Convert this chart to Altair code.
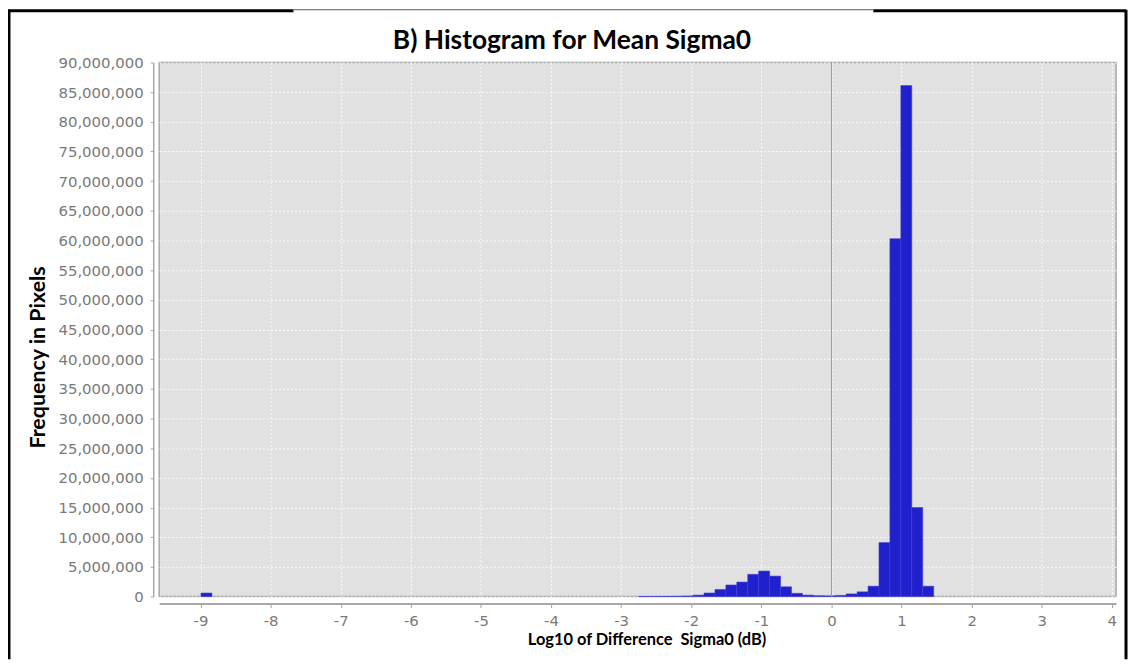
import altair as alt
import pandas as pd

# Histogram bins (left edges, bin width) and pixel counts
BIN_WIDTH = 0.156
bin_start = [-8.994, -2.754, -2.598, -2.442, -2.286, -2.13, -1.974, -1.818, -1.662,
             -1.506, -1.35, -1.194, -1.038, -0.882, -0.726, -0.57, -0.414, -0.258,
             -0.102, 0.054, 0.21, 0.366, 0.522, 0.678, 0.834, 0.99, 1.146, 1.302]
counts = [600000, 10000, 20000, 30000, 50000, 100000, 250000, 600000, 1200000,
          1950000, 2450000, 3750000, 4300000, 3450000, 1650000, 550000, 250000, 150000,
          120000, 200000, 450000, 800000, 1750000, 9100000, 60300000, 86100000,
          15000000, 1750000]

x_ticks = [-9, -8, -7, -6, -5, -4, -3, -2, -1, 0, 1, 2, 3, 4]
y_ticks = [0, 5000000, 10000000, 15000000, 20000000, 25000000, 30000000, 35000000,
           40000000, 45000000, 50000000, 55000000, 60000000, 65000000, 70000000,
           75000000, 80000000, 85000000, 90000000]

TITLE = "B) Histogram for Mean Sigma0"

df = pd.DataFrame({"start": bin_start, "count": counts})
df["end"] = df["start"] + BIN_WIDTH

W, H = 962, 537
LABEL_FONT = "DejaVu Sans"

xscale = alt.Scale(domain=[-9.59, 4.06], nice=False, zero=False)
yscale = alt.Scale(domain=[0, 90000000], nice=False)

bars = alt.Chart(df).mark_bar(color="#2020CC", stroke="#3C3CD8", strokeWidth=0.6).encode(
    x=alt.X("start:Q", scale=xscale,
            axis=alt.Axis(values=x_ticks, labelExpr="'' + datum.value",
                          title="Log10 of Difference\u00a0 Sigma0 (dB)",
                          offset=7, tickSize=4, labelPadding=6,
                          domainColor="#A8A8A8", domainWidth=2, tickColor="#A0A0A0",
                          labelColor="#7A7A7A", labelFont=LABEL_FONT, labelFontSize=15,
                          titleFont="Lato", titleFontSize=16.5, titleFontWeight="bold",
                          titleColor="#000000", titleX=490, titleY=41,
                          titleBaseline="alphabetic",
                          gridColor="#FFFFFF", gridDash=[2, 2], gridOpacity=0.9)),
    x2="end:Q",
    y=alt.Y("count:Q", scale=yscale,
            axis=alt.Axis(values=y_ticks, format=",d", title="Frequency in Pixels",
                          offset=6, tickSize=3, labelPadding=7,
                          domainColor="#A8A8A8", domainWidth=1.5, tickColor="#A0A0A0",
                          labelColor="#7A7A7A", labelFont=LABEL_FONT, labelFontSize=15,
                          titleFont="Lato", titleFontSize=21.5, titleFontWeight="bold",
                          titleColor="#000000", titleX=-109, titleY=296,
                          titleBaseline="alphabetic",
                          gridColor="#FFFFFF", gridDash=[2, 2], gridOpacity=0.9)),
    y2=alt.datum(0),
)

zero_line = alt.Chart(pd.DataFrame({"x0": [0]})).mark_rule(color="#9A9A9A", strokeWidth=1).encode(
    x=alt.X("x0:Q", scale=xscale)
)

title = alt.Chart(pd.DataFrame({"t": [TITLE]})).mark_text(
    font="Lato", fontSize=26.5, fontWeight="bold", color="#000000",
    align="center", baseline="alphabetic"
).encode(text="t:N", x=alt.value(415), y=alt.value(-14))

# decorative frame of the screenshot
frame_thick = pd.DataFrame({
    "x": [-152, 718, -151, 972],
    "x2": [135, 972, -151, 972],
    "y": [-52, -52, -53, -53],
    "y2": [-52, -52, 600, 600],
})
frame = alt.Chart(frame_thick).mark_rule(color="#000000", strokeWidth=3).encode(
    x=alt.X("x:Q", scale=None), x2="x2:Q", y=alt.Y("y:Q", scale=None), y2="y2:Q"
)
frame_thin = alt.Chart(pd.DataFrame({"x": [135], "x2": [718], "y": [-53]})).mark_rule(
    color="#555555", strokeWidth=1).encode(
    x=alt.X("x:Q", scale=None), x2="x2:Q", y=alt.Y("y:Q", scale=None)
)

chart = alt.layer(bars, zero_line, title, frame, frame_thin).properties(
    width=W, height=H,
    autosize=alt.AutoSizeParams(type="none"),
    padding={"left": 152, "top": 53, "right": 12, "bottom": 62},
    background="#FFFFFF",
).configure_view(
    fill="#E1E1E1", stroke="#A8A8A8", strokeWidth=1.5
)

chart.save("out.html", embed_options={"renderer": "svg", "actions": False})
